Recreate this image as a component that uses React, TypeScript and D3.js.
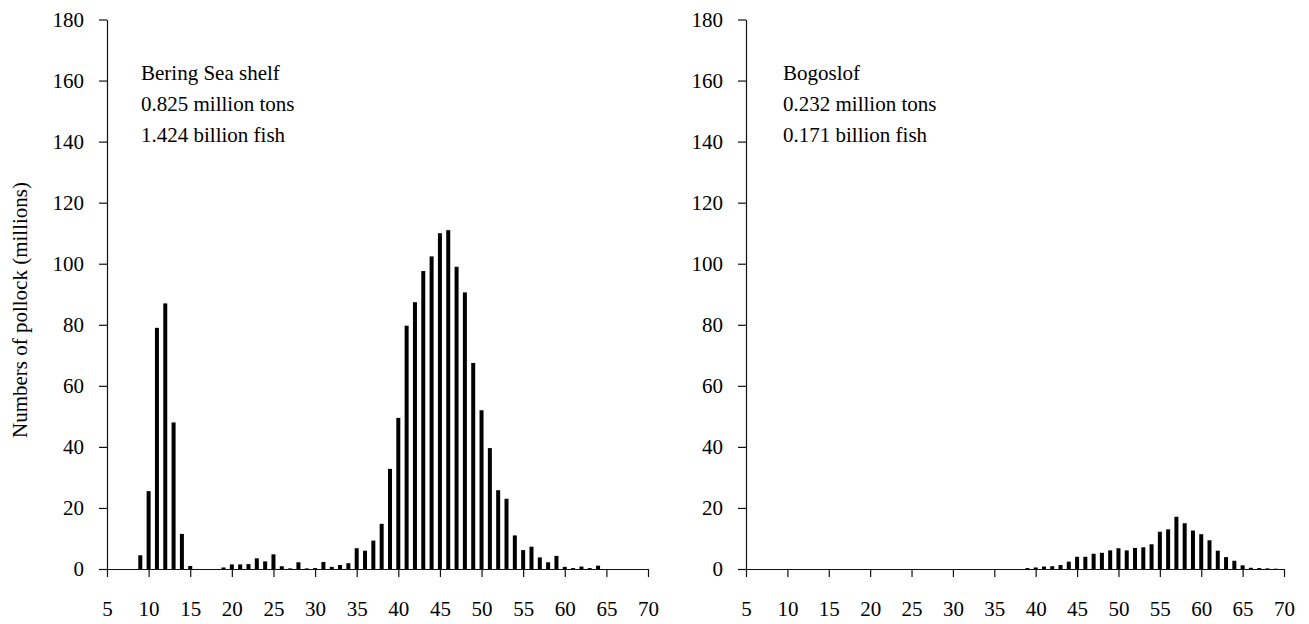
import React, { useRef, useEffect } from 'react';
import * as d3 from 'd3';

// fish length (cm) and numbers (millions)
const shelfLengths = d3.range(9, 65);
const shelfValues = [
  4.5, 25.5, 79, 87, 48, 11.5, 1, 0, 0, 0, 0.5, 1.5, 1.5, 1.6, 3.5, 2.5, 4.8, 0.9, 0.2, 2.2,
  0.2, 0.3, 2.3, 0.7, 1.3, 1.9, 6.8, 6, 9.3, 14.8, 32.8, 49.5, 79.7, 87.4, 97.6, 102.4, 110, 111,
  99, 90.6, 67.5, 52, 39.6, 25.8, 23, 11, 6.2, 7.3, 3.8, 2.2, 4.3, 0.7, 0.3, 0.8, 0.3, 1.1,
];

const bogoslofLengths = d3.range(39, 70);
const bogoslofValues = [
  0.3, 0.5, 0.8, 0.9, 1.3, 2.4, 4.0, 4.0, 5.0, 5.3, 6.1, 6.8, 6.1, 6.9, 7.1, 8.1, 12.2, 13,
  17.1, 15, 12.6, 11.4, 9.4, 6.0, 3.9, 2.7, 1.2, 0.4, 0.3, 0.2, 0.1,
];

const xTicks = d3.range(5, 71, 5);
const yTicks = d3.range(0, 181, 20);

const shelfLabels = ['Bering Sea shelf', '0.825 million tons', '1.424 billion fish'];
const bogoslofLabels = ['Bogoslof', '0.232 million tons', '0.171 billion fish'];

const FONT = 'Liberation Serif, Times New Roman, serif';

const App: React.FC = () => {
  const ref = useRef<SVGSVGElement>(null);

  useEffect(() => {
    const svg = d3.select(ref.current);
    svg.selectAll('*').remove();

    const y = d3.scaleLinear().domain([0, 180]).range([569, 19.5]);

    const panels = [
      { x0: 107, x1: 648, lengths: shelfLengths, values: shelfValues, labels: shelfLabels, tx: 141 },
      { x0: 746, x1: 1284, lengths: bogoslofLengths, values: bogoslofValues, labels: bogoslofLabels, tx: 783 },
    ];

    panels.forEach(p => {
      const x = d3.scaleLinear().domain([5, 70]).range([p.x0, p.x1]);
      const g = svg.append('g');

      // bars
      g.selectAll('rect')
        .data(p.lengths)
        .join('rect')
        .attr('x', (d) => x(d) - 2)
        .attr('width', 4)
        .attr('y', (_d, i) => y(p.values[i]))
        .attr('height', (_d, i) => y(0) - y(p.values[i]))
        .attr('fill', '#000');

      // axes
      const xAxis = g.append('g')
        .attr('transform', `translate(0, ${y(0)})`)
        .call(d3.axisBottom(x).tickValues(xTicks).tickSize(8).tickPadding(24).tickSizeOuter(0));
      const yAxis = g.append('g')
        .attr('transform', `translate(${p.x0}, 0)`)
        .call(d3.axisLeft(y).tickValues(yTicks).tickSize(8).tickPadding(15).tickSizeOuter(0));

      [xAxis, yAxis].forEach(a => {
        a.attr('font-family', FONT).attr('font-size', 21);
        a.selectAll('path, line').attr('stroke', '#111').attr('stroke-width', 1.2);
        a.selectAll('text').attr('fill', '#000');
      });

      // annotation
      g.append('g')
        .selectAll('text')
        .data(p.labels)
        .join('text')
        .attr('x', p.tx)
        .attr('y', (_d, i) => 80 + i * 31)
        .attr('fill', '#000')
        .attr('font-family', FONT)
        .attr('font-size', 21)
        .text(d => d);
    });

    // y axis title
    svg.append('text')
      .attr('transform', 'translate(27, 310) rotate(-90)')
      .attr('text-anchor', 'middle')
      .attr('fill', '#000')
      .attr('font-family', FONT)
      .attr('font-size', 21)
      .text('Numbers of pollock (millions)');
  }, []);

  return (
    <svg ref={ref} width="1309" height="624" fontFamily={FONT} style={{ position: 'absolute', left: 0, top: 0, background: '#fff' }}></svg>
  );
};

export default App;
